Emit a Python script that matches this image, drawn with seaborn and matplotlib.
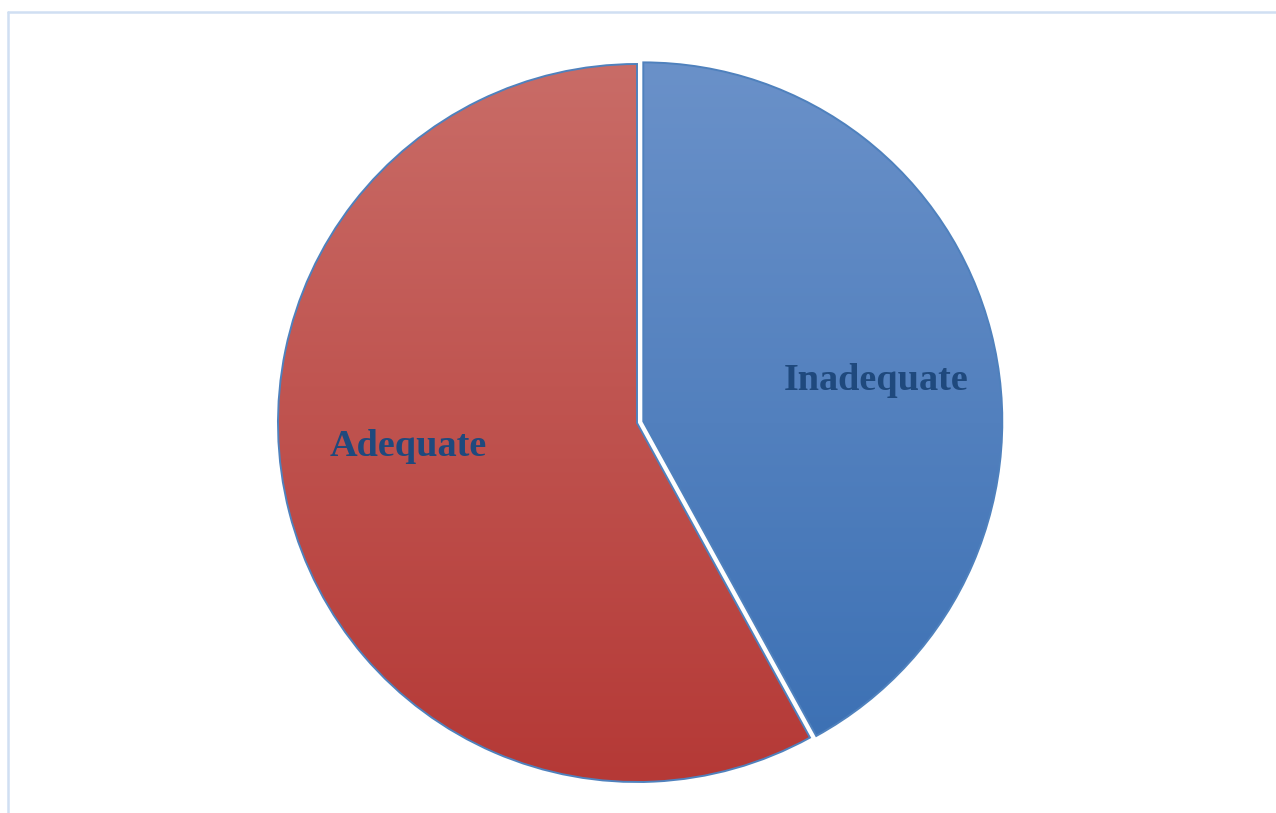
import numpy as np
import matplotlib
matplotlib.use("Agg")
import matplotlib.pyplot as plt
from matplotlib.colors import LinearSegmentedColormap
from matplotlib.lines import Line2D
import seaborn as sns

sns.set_theme(style="white")
plt.rcParams['font.family'] = ['Liberation Serif', 'DejaVu Serif']

categories = ["Inadequate", "Adequate"]
values = [42, 58]
top_colors = ["#6a91c9", "#c96c67"]
bottom_colors = ["#3a6fb3", "#b53936"]
edge_color = "#4f81bd"
label_color = "#1f497d"

W, H = 1276, 813
fig = plt.figure(figsize=(W / 100, H / 100), dpi=100)
ax = fig.add_axes([0, 0, 1, 1])

cx, cy, r = 637, H - 423, 359
wedges, _ = ax.pie(values, center=(cx, cy), radius=r, startangle=90,
                   counterclock=False, explode=[6.5, 0],
                   wedgeprops=dict(edgecolor=edge_color, linewidth=1.4))

for w, tc, bc in zip(wedges, top_colors, bottom_colors):
    cmap = LinearSegmentedColormap.from_list("g", [bc, tc])
    grad = np.linspace(0, 1, 256).reshape(-1, 1)
    im = ax.imshow(grad, cmap=cmap, origin="lower", aspect="auto",
                   extent=(cx - r - 20, cx + r + 20, cy - r, cy + r), zorder=1)
    im.set_clip_path(w)
    w.set_facecolor("none")
    w.set_zorder(2)

ax.text(876, H - 380, categories[0], ha="center", va="center",
        fontsize=27.5, fontweight="bold", color=label_color, zorder=3)
ax.text(408, H - 446, categories[1], ha="center", va="center",
        fontsize=27.5, fontweight="bold", color=label_color, zorder=3)

ax.set_xlim(0, W)
ax.set_ylim(0, H)
ax.set_aspect("auto")
ax.axis("off")

border = "#d0dff2"
fig.add_artist(Line2D([8 / W, 8 / W], [0, 1 - 12 / H], color=border, lw=1.8,
                      transform=fig.transFigure))
fig.add_artist(Line2D([8 / W, 1], [1 - 12 / H, 1 - 12 / H], color=border, lw=1.8,
                      transform=fig.transFigure))

fig.savefig("out.png", dpi=100, facecolor="white")
